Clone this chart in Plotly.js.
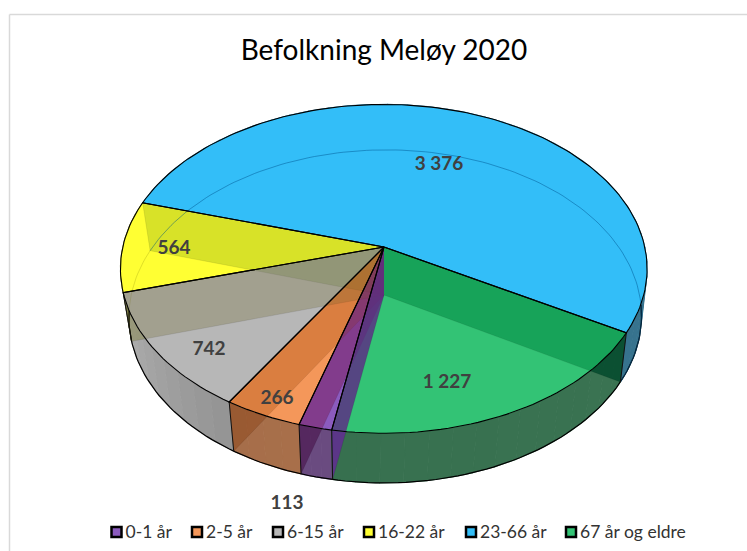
<!DOCTYPE html>
<html><head><meta charset="utf-8"><script src="https://cdn.plot.ly/plotly-3.0.1.min.js"></script>
<style>html,body{margin:0;padding:0;background:#fff}#c{width:747px;height:551px}</style></head>
<body><div id="c"></div><script>
const categories=['0-1 år','2-5 år','6-15 år','16-22 år','23-66 år','67 år og eldre'];
const values=[113,266,742,564,3376,1227];
const valueLabels=['113','266','742','564','3 376','1 227'];
const colors=['#8B5BBE','#F4975A','#B7B7B7','#FFFF33','#33BEF8','#33C375'];
const rimRight=['#6A4B80','#A86F4A','#949494','#66662A','#37738E','#3A7352'];
const rimLeft=['#6A4B80','#A66E4A','#AEAEAE','#66662A','#37738E','#37704F'];
// radial wall tints seen through the translucent slices; wall i lies at the clockwise start of slice i
const wallTintTop=['rgba(94,39,134,0.80)','rgba(121,29,90,0.50)','rgba(160,70,5,0.30)','rgba(120,115,65,0.33)','rgba(60,110,0,0.20)','rgba(0,137,65,0.55)'];
const wallTintRim=['rgba(100,40,150,0.80)','rgba(71,17,73,0.60)','rgba(135,60,14,0.40)','rgba(140,140,90,0.60)','rgba(60,110,0,0.20)','rgba(0,71,42,0.80)'];
const labelX=[287,277,209,174,439,447], labelY=[504,399,350,249,165,383];
const legendX=[116.5,197,278,369,471,571], legendY=532, legendTextGap=9, legendTextDrop=1.5;
// perspective of the top and bottom discs: a,b,c,d,k,j,x0,y0
const topDisc=[260.8979,-6.8279,4.2299,161.4847,0.1329,0.0026,384,247];
const botDisc=[254.0943,-7.3508,3.9312,163.7399,0.1283,0.0084,384,295];
const firstAngle=118.28+values[5]/values.reduce((a,b)=>a+b,0)*360;

const deg=Math.PI/180, total=values.reduce((a,b)=>a+b,0);
function P(p,phi){const X=Math.sin(phi*deg),Y=-Math.cos(phi*deg),w=1-p[4]*Y-p[5]*X;return [p[6]+(p[0]*X+p[1]*Y)/w,p[7]+(p[2]*X+p[3]*Y)/w];}
const edge=[firstAngle];values.forEach((v,i)=>edge.push(edge[i]+v/total*360));
function arc(p,a,b){const n=Math.max(2,Math.ceil(Math.abs(b-a)/1.5)),o=[];for(let i=0;i<=n;i++)o.push(P(p,a+(b-a)*i/n));return o;}
const hex=h=>[1,3,5].map(i=>parseInt(h.substr(i,2),16));
const mix=(a,b,t)=>{const A=hex(a),B=hex(b);return 'rgb('+A.map((v,i)=>Math.round(v+(B[i]-v)*t)).join(',')+')';};
const base={type:'scatter',hoverinfo:'skip',showlegend:false};
const traces=[];
function poly(pts,fill,line,width){traces.push(Object.assign({},base,{x:pts.map(q=>q[0]),y:pts.map(q=>q[1]),mode:'lines',fill:fill?'toself':'none',fillcolor:fill||undefined,line:{color:line||'rgba(0,0,0,0)',width:width||0}}));}
// keep only the part of a polygon inside the (convex) top disc
const topRing=arc(topDisc,0,360).slice(0,-1);
function clipToTop(sub){let out=sub;for(let i=0;i<topRing.length;i++){const A=topRing[i],B=topRing[(i+1)%topRing.length];
  const side=q=>(B[0]-A[0])*(q[1]-A[1])-(B[1]-A[1])*(q[0]-A[0]);const inp=out;out=[];
  for(let j=0;j<inp.length;j++){const c=inp[j],d=inp[(j+1)%inp.length],sc=side(c),sd=side(d);
    if(sc>=0)out.push(c);if((sc>=0)!==(sd>=0)){const t=sc/(sc-sd);out.push([c[0]+(d[0]-c[0])*t,c[1]+(d[1]-c[1])*t]);}}
  if(!out.length)break;}return out;}
const wallQuad=i=>[[topDisc[6],topDisc[7]],P(topDisc,edge[i]),P(botDisc,edge[i]),[botDisc[6],botDisc[7]]];
const wallOrder=[4,3,2,1,0,5];
// outer side, in strips
values.forEach((v,i)=>{const a=edge[i],b=edge[i+1],n=Math.max(3,Math.ceil((b-a)/5));
  for(let s=0;s<n;s++){const u=a+(b-a)*s/n,t=a+(b-a)*(s+1)/n;const c=mix(rimRight[i],rimLeft[i],(s+.5)/n);
    poly(arc(topDisc,u,t).concat(arc(botDisc,t,u)),c,c,1.2);}
});
// walls showing through the outer side
wallOrder.forEach(i=>poly(wallQuad(i),wallTintRim[i],'rgba(0,0,0,0.15)',0.6));
// bottom outline of the side
poly(arc(botDisc,92,268),null,'#000',1.2);
// top faces
values.forEach((v,i)=>{poly([[topDisc[6],topDisc[7]]].concat(arc(topDisc,edge[i],edge[i+1])),colors[i],colors[i],0.5);});
// far edge of the bottom disc, seen through
poly(arc(botDisc,edge[4],edge[5]),null,'rgba(0,90,150,0.5)',1);
poly(arc(botDisc,edge[3],edge[4]),null,'rgba(110,110,0,0.22)',1);
// walls showing through the top faces
wallOrder.forEach(i=>poly(clipToTop(wallQuad(i)),wallTintTop[i],'rgba(0,0,0,0.15)',0.6));
// outlines
[0,1,2,3,5].forEach(i=>{poly([P(topDisc,edge[i]),P(botDisc,edge[i])],null,'#111',1);});
values.forEach((v,i)=>{poly([[topDisc[6],topDisc[7]]].concat(arc(topDisc,edge[i],edge[i+1])).concat([[topDisc[6],topDisc[7]]]),null,'#000',1.1);});
// value labels
traces.push(Object.assign({},base,{x:labelX,y:labelY,mode:'text',text:valueLabels,textposition:'middle center',textfont:{family:'Lato, Carlito, sans-serif',size:19,color:'#404040',weight:700}}));
// legend
categories.forEach((c,i)=>{
  traces.push(Object.assign({},base,{x:[legendX[i]],y:[legendY],mode:'markers',name:c,marker:{symbol:'square',size:10,color:colors[i],line:{color:'#000',width:2.5}}}));
  traces.push(Object.assign({},base,{x:[legendX[i]+legendTextGap],y:[legendY+legendTextDrop],mode:'text',text:[c],textposition:'middle right',textfont:{family:'Lato, Carlito, sans-serif',size:17.5,color:'#333'}}));
});
const layout={width:747,height:551,margin:{l:0,r:0,t:0,b:0},paper_bgcolor:'#fff',plot_bgcolor:'#fff',showlegend:false,
 title:{text:'Befolkning Meløy 2020',x:384/747,xanchor:'center',y:1-50/551,yanchor:'middle',font:{family:'Lato, Carlito, sans-serif',size:28,color:'#000'}},
 xaxis:{range:[0,747],visible:false,fixedrange:true},yaxis:{range:[551,0],visible:false,fixedrange:true},
 shapes:[{type:'line',x0:9.5,x1:747,y0:14.5,y1:14.5,line:{color:'#D9D9D9',width:1.5}},{type:'line',x0:9.5,x1:9.5,y0:14.5,y1:551,line:{color:'#D9D9D9',width:1.5}}]};
Plotly.newPlot('c',traces,layout,{staticPlot:true,displayModeBar:false});
</script></body></html>
